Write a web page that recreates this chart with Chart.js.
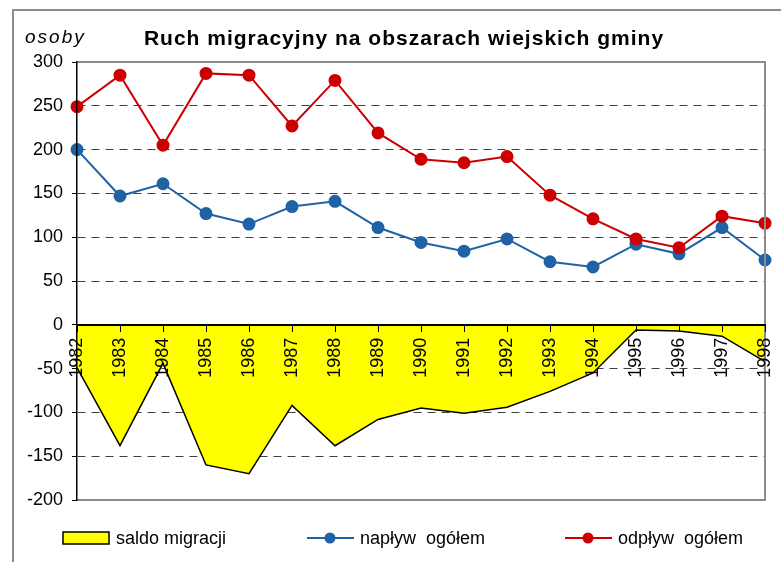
<!DOCTYPE html>
<html>
<head>
<meta charset="utf-8">
<script src="https://cdn.jsdelivr.net/npm/chart.js@4"></script>
<style>
  html, body { margin: 0; padding: 0; background: #fff; }
  canvas { display: block; }
</style>
</head>
<body>
<canvas id="migrationChart" width="781" height="562"></canvas>
<script>
// Data
const years = ['1982', '1983', '1984', '1985', '1986', '1987', '1988', '1989', '1990',
               '1991', '1992', '1993', '1994', '1995', '1996', '1997', '1998'];
const saldoMigracji = [-49, -138, -44, -160, -170, -92, -138, -108, -95, -101, -94, -76, -55, -6, -7, -13, -42];
const naplywOgolem = [200, 147, 161, 127, 115, 135, 141, 111, 94, 84, 98, 72, 66, 92, 81, 111, 74];
const odplywOgolem = [249, 285, 205, 287, 285, 227, 279, 219, 189, 185, 192, 148, 121, 98, 88, 124, 116];
const seriesLabels = ['saldo migracji', 'napływ  ogółem', 'odpływ  ogółem'];
const yMin = -200;
const yMax = 300;
const yStep = 50;
const chartTitle = 'Ruch migracyjny na obszarach wiejskich gminy';
const unitLabel = 'osoby';

const FONT = 'Arial, "Liberation Sans", sans-serif';

// Title, unit label, frame and legend drawn around the plot
const decorations = {
    id: 'decorations',
    afterDatasetsDraw(chart) {
        const ctx = chart.ctx;
        const a = chart.chartArea;
        ctx.save();
        ctx.strokeStyle = '#8c8c8c';
        ctx.lineWidth = 2;
        ctx.beginPath();
        ctx.moveTo(a.left, a.top);
        ctx.lineTo(a.right, a.top);
        ctx.lineTo(a.right, a.bottom);
        ctx.lineTo(a.left, a.bottom);
        ctx.stroke();
        ctx.restore();
    },
    afterDraw(chart) {
        const ctx = chart.ctx;
        ctx.save();

        // outer chart border
        ctx.strokeStyle = '#8c8c8c';
        ctx.lineWidth = 2;
        ctx.beginPath();
        ctx.moveTo(13, 570);
        ctx.lineTo(13, 10);
        ctx.lineTo(790, 10);
        ctx.stroke();

        // title
        ctx.fillStyle = '#000';
        ctx.textBaseline = 'alphabetic';
        ctx.textAlign = 'center';
        ctx.font = 'bold 21px ' + FONT;
        ctx.letterSpacing = '1px';
        ctx.fillText(chartTitle, 404, 45);

        // unit label
        ctx.textAlign = 'left';
        ctx.font = 'italic 19px ' + FONT;
        ctx.letterSpacing = '2px';
        ctx.fillText(unitLabel, 25, 43);
        ctx.letterSpacing = '0px';

        // legend
        const ds = chart.data.datasets;
        const y = 538;
        ctx.font = '18px ' + FONT;
        ctx.textBaseline = 'middle';

        ctx.fillStyle = ds[0].backgroundColor;
        ctx.strokeStyle = ds[0].borderColor;
        ctx.lineWidth = 1.5;
        ctx.fillRect(63, 532, 46, 12);
        ctx.strokeRect(63, 532, 46, 12);
        ctx.fillStyle = '#000';
        ctx.fillText(ds[0].label, 116, y + 1);

        [[1, 307, 360], [2, 565, 618]].forEach(([i, x0, tx]) => {
            ctx.strokeStyle = ds[i].borderColor;
            ctx.lineWidth = 2;
            ctx.beginPath();
            ctx.moveTo(x0, y);
            ctx.lineTo(x0 + 47, y);
            ctx.stroke();
            ctx.fillStyle = ds[i].pointBackgroundColor;
            ctx.beginPath();
            ctx.arc(x0 + 23, y, 5.5, 0, Math.PI * 2);
            ctx.fill();
            ctx.fillStyle = '#000';
            ctx.fillText(ds[i].label, tx, y + 1);
        });

        ctx.restore();
    }
};

const ctx = document.getElementById('migrationChart').getContext('2d');
const migrationChart = new Chart(ctx, {
    type: 'line',
    data: {
        labels: years,
        datasets: [{
            label: seriesLabels[0],
            data: saldoMigracji,
            borderColor: '#000000',
            backgroundColor: '#FFFF00',
            borderWidth: 1.5,
            fill: 'origin',
            pointRadius: 0,
            tension: 0,
            order: 2
        }, {
            label: seriesLabels[1],
            data: naplywOgolem,
            borderColor: '#1F62A6',
            backgroundColor: '#1F62A6',
            pointBackgroundColor: '#1F62A6',
            pointBorderColor: '#1F62A6',
            borderWidth: 2,
            pointRadius: 5.5,
            fill: false,
            tension: 0,
            order: 1
        }, {
            label: seriesLabels[2],
            data: odplywOgolem,
            borderColor: '#CC0000',
            backgroundColor: '#CC0000',
            pointBackgroundColor: '#CC0000',
            pointBorderColor: '#CC0000',
            borderWidth: 2,
            pointRadius: 5.5,
            fill: false,
            tension: 0,
            order: 0
        }]
    },
    options: {
        responsive: false,
        animation: false,
        devicePixelRatio: 1,
        layout: {
            padding: { left: 0, right: 16, top: 62, bottom: 62 }
        },
        plugins: {
            legend: { display: false },
            title: { display: false },
            tooltip: { enabled: false }
        },
        scales: {
            x: {
                type: 'category',
                position: { y: 0 },
                offset: false,
                afterFit: scale => {
                    scale.paddingLeft = 0;
                    scale.paddingRight = 0;
                },
                grid: {
                    offset: false,
                    drawOnChartArea: false,
                    drawTicks: true,
                    tickLength: 6,
                    tickColor: '#000',
                    z: 1
                },
                border: { display: true, color: '#000', width: 2, z: 1 },
                ticks: {
                    autoSkip: false,
                    minRotation: 90,
                    maxRotation: 90,
                    padding: 7,
                    color: '#000',
                    font: { family: FONT, size: 18 },
                    z: 1
                }
            },
            y: {
                min: yMin,
                max: yMax,
                afterFit: scale => { scale.width = 77; },
                grid: {
                    color: c => {
                        const v = c.tick.value;
                        if (v === 0) return '#000';
                        if (v === yMin || v === yMax) return 'rgba(0,0,0,0)';
                        return '#404040';
                    },
                    lineWidth: 1,
                    drawTicks: true,
                    tickLength: 5,
                    tickColor: '#000'
                },
                border: {
                    display: true,
                    color: '#000',
                    width: 1.5,
                    z: 1,
                    dash: c => (c.tick && c.tick.value === 0) ? [] : [8, 6]
                },
                ticks: {
                    stepSize: yStep,
                    padding: 9,
                    color: '#000',
                    font: { family: FONT, size: 18 }
                }
            }
        }
    },
    plugins: [decorations]
});
</script>
</body>
</html>
